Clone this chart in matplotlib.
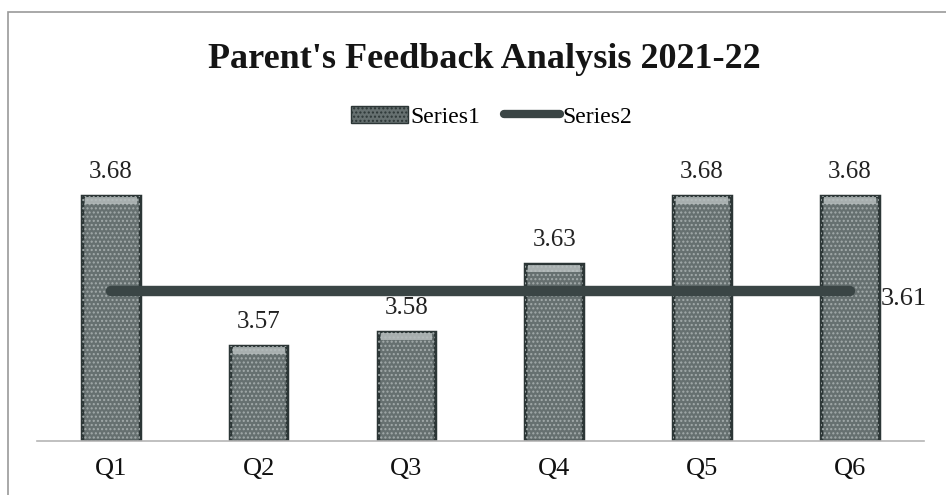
import matplotlib.pyplot as plt
import matplotlib.patches as mpatches
from matplotlib.lines import Line2D
import numpy as np

plt.rcParams['font.family'] = ['Liberation Serif', 'DejaVu Serif']

# data
questions = ['Q1', 'Q2', 'Q3', 'Q4', 'Q5', 'Q6']
series1 = [3.68, 3.57, 3.58, 3.63, 3.68, 3.68]
series2 = [3.61, 3.61, 3.61, 3.61, 3.61, 3.61]
title = "Parent's Feedback Analysis 2021-22"

fig = plt.figure(figsize=(9.46, 4.95), dpi=100)
ax = fig.add_axes([0.039, 0.109, 0.9376, 0.606])

x = np.arange(len(questions))
w = 0.39
bar_face = '#667070'
bar_edge = '#2c3636'

# bars with dotted texture and light top strip
ax.bar(x, np.array(series1) - 3.5, w, bottom=3.5, color=bar_face,
       edgecolor=bar_edge, linewidth=2.5, zorder=2)
ax.bar(x, np.array(series1) - 3.5, w, bottom=3.5, color='none',
       edgecolor='#a3abab', hatch='....', linewidth=0, zorder=3)
ax.bar(x, 0.005, w * 0.9, bottom=np.array(series1) - 0.006,
       color='#b9c0c0', alpha=0.8, linewidth=0, zorder=4)

# series2 line
ax.plot(x, series2, color='#3a4545', lw=7.5, solid_capstyle='round', zorder=5)

for xi, v in zip(x, series1):
    ax.annotate(f'{v:.2f}', (xi, v), xytext=(0, 9), textcoords='offset points',
                ha='center', va='bottom', fontsize=18, color='#222222')
ax.annotate(f'{series2[-1]:.2f}', (x[-1], series2[-1]), xytext=(22, -6),
            textcoords='offset points', ha='left', va='center', fontsize=19,
            color='#222222')

ax.set_xlim(-0.5, len(questions) - 0.5)
ax.set_ylim(3.5, 3.72)
ax.set_xticks(x)
ax.set_xticklabels(questions, fontsize=19, color='#111111')
ax.tick_params(axis='x', length=0, pad=12)
ax.set_yticks([])
for s in ['top', 'right', 'left']:
    ax.spines[s].set_visible(False)
ax.spines['bottom'].set_color('#b5b5b5')
ax.spines['bottom'].set_linewidth(1.2)

fig.text(0.512, 0.88, title, ha='center', va='center', fontsize=26,
         fontweight='bold', color='#151515')

handles = [mpatches.Patch(facecolor=bar_face, edgecolor=bar_edge, hatch='....'),
           Line2D([], [], color='#3a4545', lw=6, solid_capstyle='round')]
fig.legend(handles, ['Series1', 'Series2'], loc='center', bbox_to_anchor=(0.52, 0.764),
           ncol=2, frameon=False, fontsize=17, handlelength=2.4, handletextpad=0.1,
           columnspacing=1.0)

# outer chart border
fig.add_artist(mpatches.Rectangle((0.0085, -0.05), 1.1, 1.026, transform=fig.transFigure,
                                  fill=False, edgecolor='#9a9a9a', linewidth=1.2))

fig.savefig('out.png', dpi=100)
